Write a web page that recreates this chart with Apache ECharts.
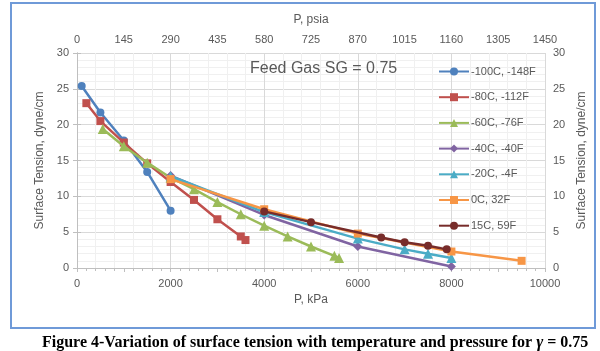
<!DOCTYPE html>
<html>
<head>
<meta charset="utf-8">
<script src="https://cdn.jsdelivr.net/npm/echarts@6/dist/echarts.min.js"></script>
<style>
  html, body { margin: 0; padding: 0; background: #fff; }
  #chart { width: 600px; height: 351px; }
</style>
</head>
<body>
<div id="chart"></div>
<script>
// series names, colours and markers
var seriesNames = ['-100C, -148F', '-80C, -112F', '-60C, -76F', '-40C, -40F', '-20C, -4F', '0C, 32F', '15C, 59F'];
var colors = ['#4F81BD', '#C0504D', '#9BBB59', '#8064A2', '#4BACC6', '#F79646', '#772C2A'];
var symbols = ['circle', 'rect', 'triangle', 'diamond', 'triangle', 'rect', 'circle'];

// [P kPa, surface tension dyne/cm]
var t100 = [[100, 25.4], [500, 21.7], [1000, 17.8], [1500, 13.4], [2000, 8.0]];
var t80 = [[200, 23.0], [500, 20.5], [1000, 17.5], [1500, 14.6], [2000, 12.0], [2500, 9.5], [3000, 6.8], [3500, 4.4], [3600, 3.9]];
var t60 = [[550, 19.4], [1000, 17.0], [1500, 14.7], [2000, 12.6], [2500, 11.0], [3000, 9.2], [3500, 7.5], [4000, 5.9], [4500, 4.4], [5000, 3.0], [5500, 1.7], [5600, 1.4]];
var t40 = [[2000, 12.9], [4000, 7.4], [6000, 3.0], [8000, 0.2]];
var t20 = [[2000, 12.8], [4000, 7.8], [6000, 4.1], [7000, 2.6], [7500, 2.0], [8000, 1.4]];
var t0 = [[2000, 12.4], [4000, 8.2], [6000, 4.8], [8000, 2.3], [9500, 1.0]];
var t15 = [[4000, 7.9], [5000, 6.4], [6500, 4.25], [7000, 3.6], [7500, 3.1], [7900, 2.6]];
var allData = [t100, t80, t60, t40, t20, t0, t15];

var gray = '#595959';
var labelFont = {
    color: gray, fontSize: 11, fontFamily: 'Liberation Sans',
    formatter: function (v) { return String(v); }
};

var chart = echarts.init(document.getElementById('chart'));

var series = allData.map(function (d, i) {
    return {
        name: seriesNames[i],
        type: 'line',
        data: d,
        symbol: symbols[i],
        symbolSize: symbols[i] === 'triangle' ? 10 : (symbols[i] === 'diamond' ? 9 : 8),
        showAllSymbol: true,
        lineStyle: { color: colors[i], width: 2.5 },
        itemStyle: { color: colors[i] },
        z: 3 + i
    };
});

var option = {
    backgroundColor: '#fff',
    animation: false,
    textStyle: { fontFamily: 'Liberation Sans' },
    title: {
        text: '{a|Figure 4-Variation of surface tension with temperature and pressure for }{b|γ}{a| = 0.75}',
        left: 37,
        top: 329,
        textStyle: {
            rich: {
                a: { fontFamily: 'Liberation Serif', fontWeight: 'bold', fontSize: 16, color: '#000' },
                b: { fontFamily: 'Liberation Serif', fontWeight: 'bold', fontStyle: 'italic', fontSize: 17, color: '#000' }
            }
        }
    },
    graphic: [
        {
            type: 'rect',
            shape: { x: 11, y: 3, width: 584, height: 325 },
            style: { fill: 'none', stroke: '#6F9AD8', lineWidth: 2 },
            silent: true
        },
        {
            type: 'text',
            left: 250,
            top: 61,
            style: { text: 'Feed Gas SG = 0.75', fill: gray, fontSize: 16, fontFamily: 'Liberation Sans' },
            z: 10
        }
    ],
    legend: {
        orient: 'vertical',
        left: 433,
        top: 61,
        itemWidth: 30,
        itemHeight: 10,
        itemGap: 14.7,
        textStyle: { color: gray, fontSize: 11, fontFamily: 'Liberation Sans', padding: [0, 0, 0, -3] },
        data: seriesNames
    },
    grid: { left: 77, right: 55, top: 53, bottom: 83 },
    xAxis: [
        {
            type: 'value',
            position: 'bottom',
            min: 0, max: 10000, interval: 2000,
            name: 'P, kPa', nameLocation: 'middle', nameGap: 26,
            nameTextStyle: { color: gray, fontSize: 12 },
            axisLine: { show: true, lineStyle: { color: '#bfbfbf' } },
            axisTick: { show: false },
            minorTick: { show: true, splitNumber: 5, length: 3, lineStyle: { color: '#bfbfbf' } },
            axisLabel: Object.assign({ margin: 10 }, labelFont),
            splitLine: { show: true, lineStyle: { color: '#d9d9d9' } },
            minorSplitLine: { show: true, lineStyle: { color: '#f0f0f0' } }
        },
        {
            type: 'value',
            position: 'top',
            min: 0, max: 1450, interval: 145,
            name: 'P, psia', nameLocation: 'middle', nameGap: 27,
            nameTextStyle: { color: gray, fontSize: 12 },
            axisLine: { show: true, lineStyle: { color: '#bfbfbf' } },
            axisTick: { show: true, inside: true, length: 4, lineStyle: { color: '#bfbfbf' } },
            minorTick: { show: true, splitNumber: 5, length: 3, lineStyle: { color: '#bfbfbf' } },
            axisLabel: labelFont,
            splitLine: { show: false }
        }
    ],
    yAxis: [
        {
            type: 'value',
            position: 'left',
            min: 0, max: 30, interval: 5,
            name: 'Surface Tension, dyne/cm', nameLocation: 'middle', nameGap: 28,
            nameTextStyle: { color: gray, fontSize: 12 },
            axisLine: { show: true, lineStyle: { color: '#bfbfbf' } },
            axisTick: { show: true, length: 4, lineStyle: { color: '#bfbfbf' } },
            axisLabel: labelFont,
            splitLine: { show: true, lineStyle: { color: '#d9d9d9' } },
            minorTick: { show: false, splitNumber: 5 },
            minorSplitLine: { show: true, lineStyle: { color: '#f0f0f0' } }
        },
        {
            type: 'value',
            position: 'right',
            min: 0, max: 30, interval: 5,
            name: 'Surface Tension, dyne/cm', nameLocation: 'middle', nameGap: 28, nameRotate: 90,
            nameTextStyle: { color: gray, fontSize: 12 },
            axisLine: { show: true, lineStyle: { color: '#bfbfbf' } },
            axisTick: { show: true, length: 4, lineStyle: { color: '#bfbfbf' } },
            axisLabel: labelFont,
            splitLine: { show: false }
        }
    ],
    series: series
};

chart.setOption(option);
</script>
</body>
</html>
